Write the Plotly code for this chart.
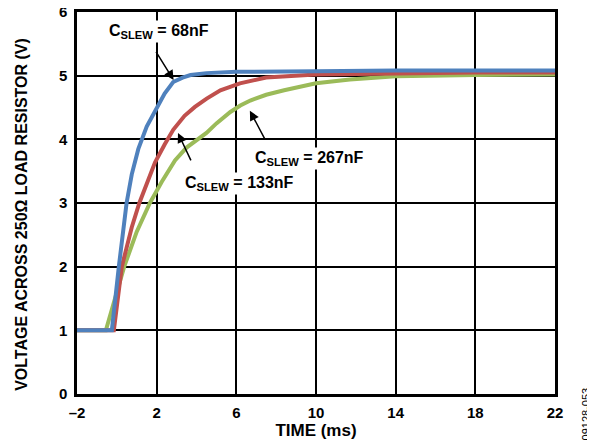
import plotly.graph_objects as go

# C_SLEW = 68nF (blue)
t_68 = [-2, -0.25, 0.1, 0.2, 0.49, 0.75, 1.08, 1.5, 2.0, 2.4, 2.83, 3.3, 3.7, 4.5, 6, 8, 10, 14, 18, 22]
v_68 = [1.0, 1.0, 2.0, 2.25, 3.0, 3.45, 3.85, 4.2, 4.5, 4.72, 4.9, 4.97, 5.01, 5.04, 5.06, 5.07, 5.07, 5.08, 5.08, 5.08]

# C_SLEW = 133nF (red)
t_133 = [-2, -0.15, 0.25, 0.4, 0.75, 1.13, 1.5, 1.92, 2.4, 2.83, 3.4, 3.92, 4.51, 5.2, 6.18, 7.5, 10, 14, 18, 22]
v_133 = [1.0, 1.0, 2.0, 2.18, 2.62, 3.0, 3.3, 3.64, 3.92, 4.15, 4.37, 4.51, 4.64, 4.77, 4.88, 4.97, 5.02, 5.04, 5.05, 5.05]

# C_SLEW = 267nF (green)
t_267 = [-2, -0.55, 0.37, 0.6, 1.0, 1.66, 2.25, 2.92, 3.5, 4.5, 5.0, 5.7, 6.2, 6.7, 7.5, 8.4, 10, 11.7, 14, 18, 22]
v_267 = [1.0, 1.0, 2.0, 2.2, 2.55, 3.0, 3.33, 3.67, 3.87, 4.1, 4.25, 4.43, 4.53, 4.61, 4.7, 4.77, 4.88, 4.94, 4.99, 5.01, 5.02]

x_ticks = [-2, 2, 6, 10, 14, 18, 22]
x_ticktext = ["\u20132", "2", "6", "10", "14", "18", "22"]
y_ticks = [0, 1, 2, 3, 4, 5, 6]

FONT = "Liberation Sans, Arial, sans-serif"

fig = go.Figure()
fig.add_trace(go.Scatter(x=t_267, y=v_267, mode="lines", line=dict(color="#9BBB59", width=4)))
fig.add_trace(go.Scatter(x=t_133, y=v_133, mode="lines", line=dict(color="#C0504D", width=4)))
fig.add_trace(go.Scatter(x=t_68, y=v_68, mode="lines", line=dict(color="#4F81BD", width=4)))

ann_font = dict(family=FONT, size=16, color="black")

# curve labels
labels = [
    ("<b>C<sub>SLEW</sub> = 68nF</b>", 2.14, 5.7),
    ("<b>C<sub>SLEW</sub> = 133nF</b>", 6.15, 3.3),
    ("<b>C<sub>SLEW</sub> = 267nF</b>", 9.65, 3.7),
]
for txt, x, y in labels:
    fig.add_annotation(x=x, y=y, text=txt, showarrow=False,
                       font=ann_font, bgcolor="white", borderpad=1)

# arrows: (tail x, tail y, head x, head y)
arrows = [
    (1.82, 5.45, 2.85, 4.93),
    (3.87, 3.57, 3.07, 4.1),
    (7.59, 3.91, 6.68, 4.45),
]
for x0, y0, x1, y1 in arrows:
    fig.add_annotation(x=x1, y=y1, ax=x0, ay=y0, axref="x", ayref="y", xref="x", yref="y",
                       text=" ", showarrow=True, arrowhead=2, arrowsize=1.3, arrowwidth=1.5,
                       arrowcolor="black")

# y axis title (placed as annotation so it sits a bit below centre like the original)
fig.add_annotation(text="<b>VOLTAGE ACROSS 250Ω LOAD RESISTOR (V)</b>", xref="paper", yref="paper",
                   x=-0.115, y=0.469, xanchor="center", yanchor="middle", textangle=-90,
                   showarrow=False, font=dict(family=FONT, size=16, color="black"))

fig.add_annotation(text="09128-053", xref="paper", yref="paper", x=1.065, y=-0.128,
                   xanchor="center", yanchor="bottom", textangle=-90, showarrow=False,
                   font=dict(family=FONT, size=11, color="black"))

# page body has an 8px margin, so figure is 8px smaller and margins shifted
fig.update_layout(
    width=587, height=438,
    margin=dict(l=69, r=40, t=4, b=52),
    paper_bgcolor="white", plot_bgcolor="white",
    showlegend=False,
    font=dict(family=FONT, color="black"),
)
fig.update_xaxes(range=[-2, 22], tickvals=x_ticks, ticktext=x_ticktext, automargin=False,
                 showgrid=True, gridcolor="black", gridwidth=1.5,
                 showline=True, linecolor="black", linewidth=2.5, mirror=True,
                 zeroline=False, ticks="", ticklabelstandoff=3, ticklabeloverflow="allow",
                 tickfont=dict(family=FONT, size=15, weight="bold"),
                 title=dict(text="<b>TIME (ms)</b>", font=dict(family=FONT, size=17), standoff=2))
fig.update_yaxes(range=[0, 6], tickvals=y_ticks, automargin=False,
                 showgrid=True, gridcolor="black", gridwidth=1.5,
                 showline=True, linecolor="black", linewidth=2.5, mirror=True,
                 zeroline=False, ticks="", ticklabelstandoff=4, ticklabeloverflow="allow",
                 tickfont=dict(family=FONT, size=15, weight="bold"))

fig.write_html("out.html")
